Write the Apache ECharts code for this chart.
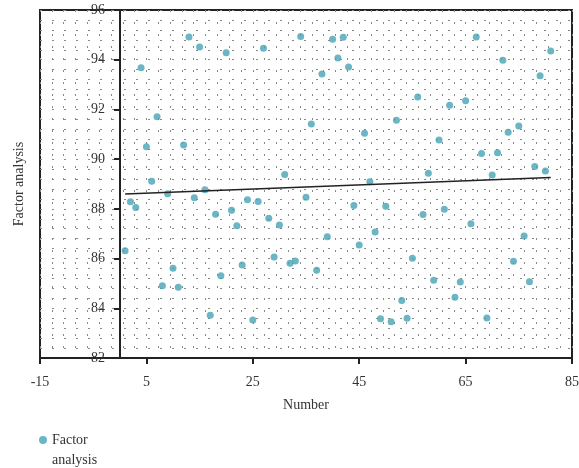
<!DOCTYPE html>
<html>
<head>
<meta charset="utf-8">
<title>Factor analysis</title>
<script src="https://cdn.jsdelivr.net/npm/echarts@6/dist/echarts.min.js"></script>
<style>
  html, body { margin: 0; padding: 0; background: #fff; }
  #chartDom { width: 579px; height: 468px; }
</style>
</head>
<body>
<div id="chartDom"></div>
<script>
// data
var numbers = [];
for (var n = 1; n <= 81; n++) numbers.push(n);
var factorValues = [
  86.31, 88.29, 88.05, 93.68, 90.50, 89.11, 91.71, 84.91, 88.61, 85.61,
  84.85, 90.57, 94.91, 88.45, 94.51, 88.77, 83.72, 87.78, 85.31, 94.28,
  87.94, 87.32, 85.74, 88.37, 83.53, 88.30, 94.46, 87.62, 86.06, 87.35,
  89.38, 85.81, 85.90, 94.93, 88.47, 91.41, 85.53, 93.43, 86.88, 94.82,
  94.07, 94.90, 93.71, 88.14, 86.55, 91.04, 89.09, 87.07, 83.58, 88.10,
  83.46, 91.56, 84.31, 83.60, 86.01, 92.50, 87.77, 89.43, 85.13, 90.77,
  87.98, 92.17, 84.44, 85.06, 92.35, 87.40, 94.91, 90.23, 83.61, 89.36,
  90.26, 93.98, 91.08, 85.89, 91.33, 86.91, 85.07, 89.70, 93.35, 89.52,
  94.35
];
var trendX = [1, 81];
var trendY = [88.6, 89.26];

var font = "'Liberation Serif', 'DejaVu Serif', serif";
var dotted = { color: '#888', width: 1, type: [2, 10] };
// dot at the top of a tall box, so it lines up with the first text line
var legendDot = 'path://M0,4 A4,4 0 1,1 8,4 A4,4 0 1,1 0,4 Z M4,27.95 L4,28';

var chartDom = document.getElementById('chartDom');
var myChart = echarts.init(chartDom);
var option = {
  animation: false,
  textStyle: { fontFamily: font },
  grid: {
    left: 40, right: 7, top: 10, bottom: 110,
    containLabel: false,
    outerBoundsMode: 'none',
    show: true, borderColor: '#222', borderWidth: 2
  },
  legend: {
    left: 34, top: 425,
    icon: legendDot,
    itemWidth: 8, itemHeight: 28,
    data: ['Factor analysis'],
    formatter: function () { return 'Factor\nanalysis'; },
    textStyle: { fontFamily: font, fontSize: 14, color: '#333', lineHeight: 20 }
  },
  xAxis: {
    type: 'value',
    min: -15, max: 85, interval: 20,
    name: 'Number',
    nameLocation: 'middle',
    nameGap: 40,
    nameTextStyle: { fontFamily: font, fontSize: 14, color: '#333' },
    axisLine: { show: true, onZero: false, lineStyle: { color: '#222', width: 2 } },
    axisTick: { show: true, length: 6, lineStyle: { color: '#222', width: 2 } },
    axisLabel: { margin: 17, fontFamily: font, fontSize: 14, color: '#333' },
    splitLine: { show: true, lineStyle: dotted },
    minorTick: { show: false, splitNumber: 9 },
    minorSplitLine: { show: true, lineStyle: dotted }
  },
  yAxis: {
    type: 'value',
    min: 82, max: 96, interval: 2,
    // the axis sits at Number = 0, i.e. 80px right of the grid edge
    offset: -80,
    name: 'Factor analysis',
    nameLocation: 'middle',
    nameGap: 94,
    nameRotate: 90,
    nameTextStyle: { fontFamily: font, fontSize: 14, color: '#333' },
    axisLine: { show: true, onZero: false, lineStyle: { color: '#222', width: 2 } },
    axisTick: { show: true, length: 6, lineStyle: { color: '#222', width: 2 } },
    axisLabel: { margin: 15, fontFamily: font, fontSize: 14, color: '#333' },
    splitLine: { show: true, lineStyle: dotted },
    minorTick: { show: false, splitNumber: 5 },
    minorSplitLine: { show: true, lineStyle: dotted }
  },
  series: [
    {
      name: 'Factor analysis',
      type: 'scatter',
      symbolSize: 7,
      itemStyle: { color: '#46a3b6' },
      data: numbers.map(function (x, i) { return [x, factorValues[i]]; }),
      z: 3
    },
    {
      name: 'trend',
      type: 'line',
      symbol: 'none',
      lineStyle: { color: '#222', width: 1.5 },
      data: trendX.map(function (x, i) { return [x, trendY[i]]; }),
      z: 4
    }
  ]
};
option && myChart.setOption(option);
</script>
</body>
</html>
